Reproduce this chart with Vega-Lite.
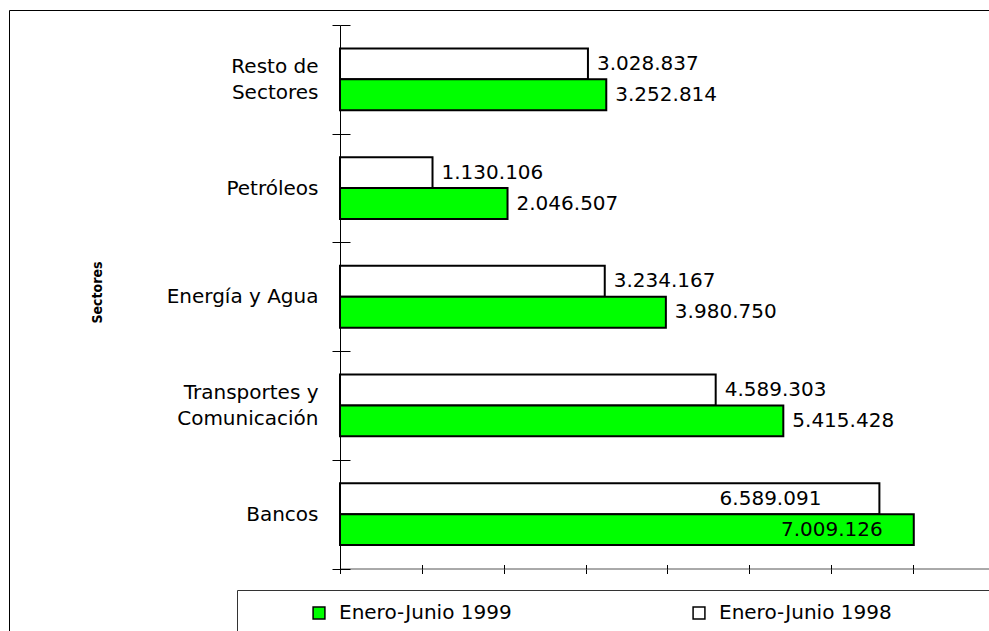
{
  "$schema": "https://vega.github.io/schema/vega-lite/v6.json",
  "width": 980,
  "height": 621,
  "autosize": {"type": "none"},
  "padding": {"left": 9, "top": 10, "right": 0, "bottom": 0},
  "background": "white",
  "config": {
    "view": {"stroke": "#000000", "strokeWidth": 1},
    "locale": {"number": {"decimal": ",", "thousands": ".", "grouping": [3], "currency": ["", ""]}},
    "font": "DejaVu Sans"
  },
  "data": {"values": [
    {"sector": "Resto de Sectores", "serie": "Enero-Junio 1998", "valor": 3028837},
    {"sector": "Resto de Sectores", "serie": "Enero-Junio 1999", "valor": 3252814},
    {"sector": "Petróleos", "serie": "Enero-Junio 1998", "valor": 1130106},
    {"sector": "Petróleos", "serie": "Enero-Junio 1999", "valor": 2046507},
    {"sector": "Energía y Agua", "serie": "Enero-Junio 1998", "valor": 3234167},
    {"sector": "Energía y Agua", "serie": "Enero-Junio 1999", "valor": 3980750},
    {"sector": "Transportes y Comunicación", "serie": "Enero-Junio 1998", "valor": 4589303},
    {"sector": "Transportes y Comunicación", "serie": "Enero-Junio 1999", "valor": 5415428},
    {"sector": "Bancos", "serie": "Enero-Junio 1998", "valor": 6589091},
    {"sector": "Bancos", "serie": "Enero-Junio 1999", "valor": 7009126}
  ]},
  "layer": [
    {
      "mark": {"type": "bar", "stroke": "black", "strokeWidth": 2},
      "encoding": {
        "y": {
          "field": "sector", "type": "nominal", "sort": null,
          "scale": {"range": [15, 558.5], "paddingInner": 0, "paddingOuter": 0},
          "axis": {
            "orient": "left", "offset": -331, "title": "Sectores",
            "titleFont": "DejaVu Sans Condensed, DejaVu Sans", "titleFontWeight": "bold", "titleFontSize": 14, "titleColor": "black",
            "titleX": -243, "titleY": 282, "titleAngle": 270, "titleAlign": "center", "titleBaseline": "middle",
            "labelFont": "DejaVu Sans", "labelFontSize": 20, "labelColor": "black", "labelPadding": 14,
            "labelExpr": "datum.value == 'Resto de Sectores' ? ['Resto de', 'Sectores'] : datum.value == 'Transportes y Comunicación' ? ['Transportes y', 'Comunicación'] : datum.value",
            "labelOffset": {"condition": {"test": "datum.value == 'Resto de Sectores' || datum.value == 'Transportes y Comunicación'", "value": -13}, "value": 0},
            "labelLineHeight": 26, "labelLimit": 400,
            "tickBand": "extent", "tickSize": 8, "tickColor": "black",
            "domainColor": "black", "domainWidth": 1, "grid": false
          }
        },
        "yOffset": {"field": "serie", "type": "nominal", "sort": ["Enero-Junio 1998", "Enero-Junio 1999"], "scale": {"paddingInner": 0, "paddingOuter": 0.758}},
        "x": {
          "field": "valor", "type": "quantitative",
          "scale": {"domain": [0, 7928000], "range": [331, 980], "nice": false, "zero": true},
          "axis": {
            "orient": "bottom", "offset": -62.5, "title": null, "labels": false,
            "values": [0, 1000000, 2000000, 3000000, 4000000, 5000000, 6000000, 7000000],
            "tickSize": 5, "tickColor": "black", "domainColor": "#555555", "grid": false
          }
        },
        "color": {
          "field": "serie", "type": "nominal",
          "scale": {"domain": ["Enero-Junio 1999", "Enero-Junio 1998"], "range": ["#00ff00", "#ffffff"]},
          "legend": {
            "orient": "none", "legendX": 228, "legendY": 580, "direction": "horizontal", "columns": 2,
            "title": " ", "titleOrient": "right", "titlePadding": 100, "titleFontSize": 10,
            "padding": 13, "strokeColor": "#333333", "fillColor": "white",
            "labelFont": "DejaVu Sans", "labelFontSize": 20, "labelColor": "black",
            "symbolType": "square", "symbolSize": 140, "symbolStrokeColor": "black", "symbolStrokeWidth": 1.5,
            "symbolOffset": 59, "labelOffset": 10, "columnPadding": 118, "labelLimit": 400
          }
        }
      }
    },
    {
      "mark": {
        "type": "text", "font": "DejaVu Sans", "fontSize": 20, "fill": "black", "baseline": "middle",
        "align": {"expr": "datum.sector == 'Bancos' ? 'right' : 'left'"},
        "dx": {"expr": "datum.sector == 'Bancos' ? (datum.serie == 'Enero-Junio 1999' ? -31 : -58) : 9"}
      },
      "encoding": {
        "y": {
          "field": "sector", "type": "nominal", "sort": null,
          "scale": {"range": [15, 558.5], "paddingInner": 0, "paddingOuter": 0},
          "axis": {"orient": "left", "offset": -331, "title": null, "labels": false, "domain": false, "tickBand": "extent", "tickSize": -10, "tickColor": "black", "grid": false}
        },
        "yOffset": {"field": "serie", "type": "nominal", "sort": ["Enero-Junio 1998", "Enero-Junio 1999"], "scale": {"paddingInner": 0, "paddingOuter": 0.758}},
        "x": {
          "field": "valor", "type": "quantitative",
          "scale": {"domain": [0, 7928000], "range": [331, 980], "nice": false, "zero": true},
          "axis": {"orient": "bottom", "offset": -62.5, "title": null, "labels": false, "domain": false,
            "values": [0, 1000000, 2000000, 3000000, 4000000, 5000000, 6000000, 7000000],
            "tickSize": -4, "tickColor": "black", "grid": false}
        },
        "text": {"field": "valor", "type": "quantitative", "format": ",d"}
      }
    }
  ],
  "resolve": {"axis": {"x": "independent", "y": "independent"}}
}
